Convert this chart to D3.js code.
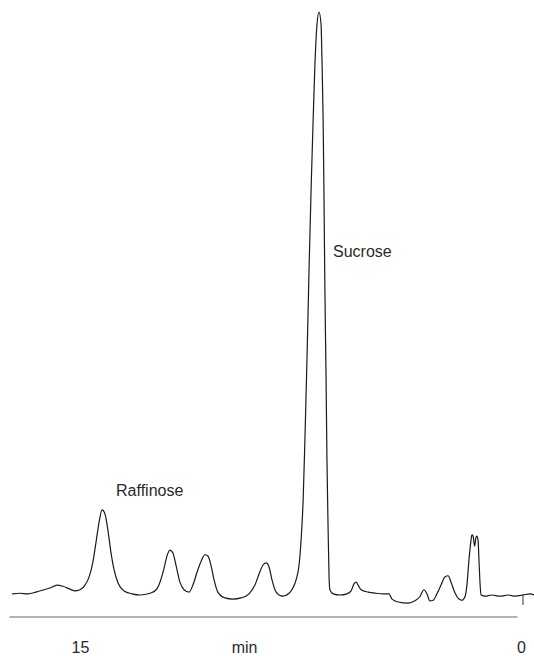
<!DOCTYPE html>
<html>
<head>
<meta charset="utf-8">
<script src="https://cdn.jsdelivr.net/npm/d3@7"></script>
<style>
body { margin: 0; background: #ffffff; }
svg { display: block; }
text { font-family: "Liberation Sans", Arial, sans-serif; fill: #2a2a2a; }
</style>
</head>
<body>
<script>
// retention time (min), left to right
var time = [
	17.31, 17.04, 16.77, 16.50, 16.22, 16.02, 15.78, 15.58, 15.34, 15.17,
	15.00, 14.83, 14.69, 14.56, 14.46, 14.35, 14.25, 14.15, 14.05, 13.95,
	13.84, 13.71, 13.50, 13.23, 12.96, 12.62, 12.41, 12.28, 12.14, 12.04,
	11.94, 11.84, 11.73, 11.60, 11.46, 11.29, 11.16, 11.02, 10.88, 10.75,
	10.65, 10.54, 10.44, 10.31, 10.07, 9.80, 9.52, 9.25, 9.05, 8.91,
	8.78, 8.67, 8.57, 8.47, 8.33, 8.10, 7.89, 7.76, 7.65, 7.55,
	7.48, 7.41, 7.35, 7.28, 7.21, 7.14, 7.07, 7.01, 6.94, 6.87,
	6.80, 6.77, 6.73, 6.70, 6.67, 6.63, 6.60, 6.56, 6.53, 6.50,
	6.39, 6.16, 5.92, 5.78, 5.68, 5.61, 5.54, 5.44, 5.20, 4.93,
	4.66, 4.49, 4.39, 4.18, 3.84, 3.61, 3.44, 3.30, 3.20, 3.10,
	2.99, 2.86, 2.72, 2.59, 2.48, 2.38, 2.24, 2.11, 2.01, 1.90,
	1.84, 1.77, 1.70, 1.67, 1.63, 1.58, 1.53, 1.50, 1.46, 1.43,
	1.39, 1.36, 1.22, 0.99, 0.71, 0.44, 0.20, -0.07, -0.31, -0.44
];
// detector signal (sucrose peak = 100)
var signal = [
	0.2, 0.3, 0.2, 0.5, 0.9, 1.2, 1.7, 1.5, 1.0, 0.7,
	0.9, 1.7, 3.1, 5.7, 8.9, 12.5, 14.6, 13.9, 11.1, 7.4,
	4.3, 2.1, 0.7, 0.2, 0.0, 0.3, 0.9, 2.2, 4.6, 6.7,
	7.7, 7.2, 5.0, 2.2, 0.9, 0.5, 1.7, 3.9, 5.8, 6.9,
	6.7, 5.0, 2.6, 0.5, -0.5, -0.7, -0.5, 0.2, 1.7, 3.6,
	5.1, 5.5, 4.8, 2.6, 0.5, -0.2, 0.3, 1.2, 2.6, 5.1,
	9.4, 16.3, 26.6, 40.3, 55.7, 69.5, 81.5, 90.9, 97.8, 100,
	97.8, 91.8, 81.5, 67.8, 52.3, 36.9, 23.2, 11.1, 3.4, 0.9,
	0.2, 0.0, 0.2, 0.7, 1.9, 2.2, 1.7, 0.9, 0.5, 0.3,
	0.2, 0.2, -0.7, -1.2, -1.4, -1.0, -0.3, 0.9, 0.2, -1.0,
	-0.9, 0.2, 1.7, 3.1, 3.3, 2.2, 0.3, -0.7, -0.9, -0.2,
	1.7, 6.0, 9.4, 10.3, 10.1, 8.4, 9.9, 10.1, 9.4, 6.0,
	1.7, 0.0, -0.2, 0.0, -0.2, 0.0, -0.2, 0.0, 0.2, 0.0
];
var tickValues = [15, 0];
var axisTitle = "min";
var axisTitleAt = 9.4;
var axisExtent = [17.4, 0.12];
var peakNames = ["Raffinose", "Sucrose"];
var peakTimes = [14.25, 6.87];
var labelLevels = [17.0, 58.0];
var injectAt = 0;

var width = 534, height = 656;
var svg = d3.select("body")
	.append("svg")
	.attr("width", width)
	.attr("height", height);

var x = d3.scaleLinear()
	.domain([15, 0])
	.range([80, 521]);
var y = d3.scaleLinear()
	.domain([0, 100])
	.range([595, 12]);
var axisY = 617;
var labelBase = 653;

var points = time.map(function (t, i) { return [t, signal[i]]; });
var line = d3.line()
	.x(function (d) { return x(d[0]); })
	.y(function (d) { return y(d[1]); })
	.curve(d3.curveMonotoneX);

svg.append("path")
	.datum(points)
	.attr("d", line)
	.attr("fill", "none")
	.attr("stroke", "#1a1a1a")
	.attr("stroke-width", 1.2)
	.attr("stroke-linejoin", "round");

// injection mark
svg.append("line")
	.attr("x1", x(injectAt) + 2)
	.attr("x2", x(injectAt) + 2)
	.attr("y1", y(0) - 1)
	.attr("y2", y(0) + 10)
	.attr("stroke", "#333")
	.attr("stroke-width", 1);

// time axis
svg.append("line")
	.attr("x1", x(axisExtent[0]))
	.attr("x2", x(axisExtent[1]))
	.attr("y1", axisY)
	.attr("y2", axisY)
	.attr("stroke", "#666")
	.attr("stroke-width", 1.1);

var axis = svg.append("g")
	.attr("transform", "translate(0," + axisY + ")")
	.call(d3.axisBottom(x).tickValues(tickValues).tickSize(0).tickFormat(d3.format("d")));
axis.select(".domain").remove();
axis.selectAll("text")
	.attr("y", labelBase - axisY)
	.attr("dy", null)
	.style("font-size", "16px")
	.style("font-family", "'Liberation Sans', Arial, sans-serif")
	.attr("fill", "#2a2a2a");

svg.append("text")
	.attr("x", x(axisTitleAt))
	.attr("y", labelBase)
	.attr("text-anchor", "middle")
	.style("font-size", "16px")
	.text(axisTitle);

svg.selectAll(".peak-label")
	.data(peakNames)
	.enter()
	.append("text")
	.attr("class", "peak-label")
	.attr("x", function (d, i) { return x(peakTimes[i]) + 14; })
	.attr("y", function (d, i) { return y(labelLevels[i]); })
	.style("font-size", "16px")
	.text(function (d) { return d; });
</script>
</body>
</html>
